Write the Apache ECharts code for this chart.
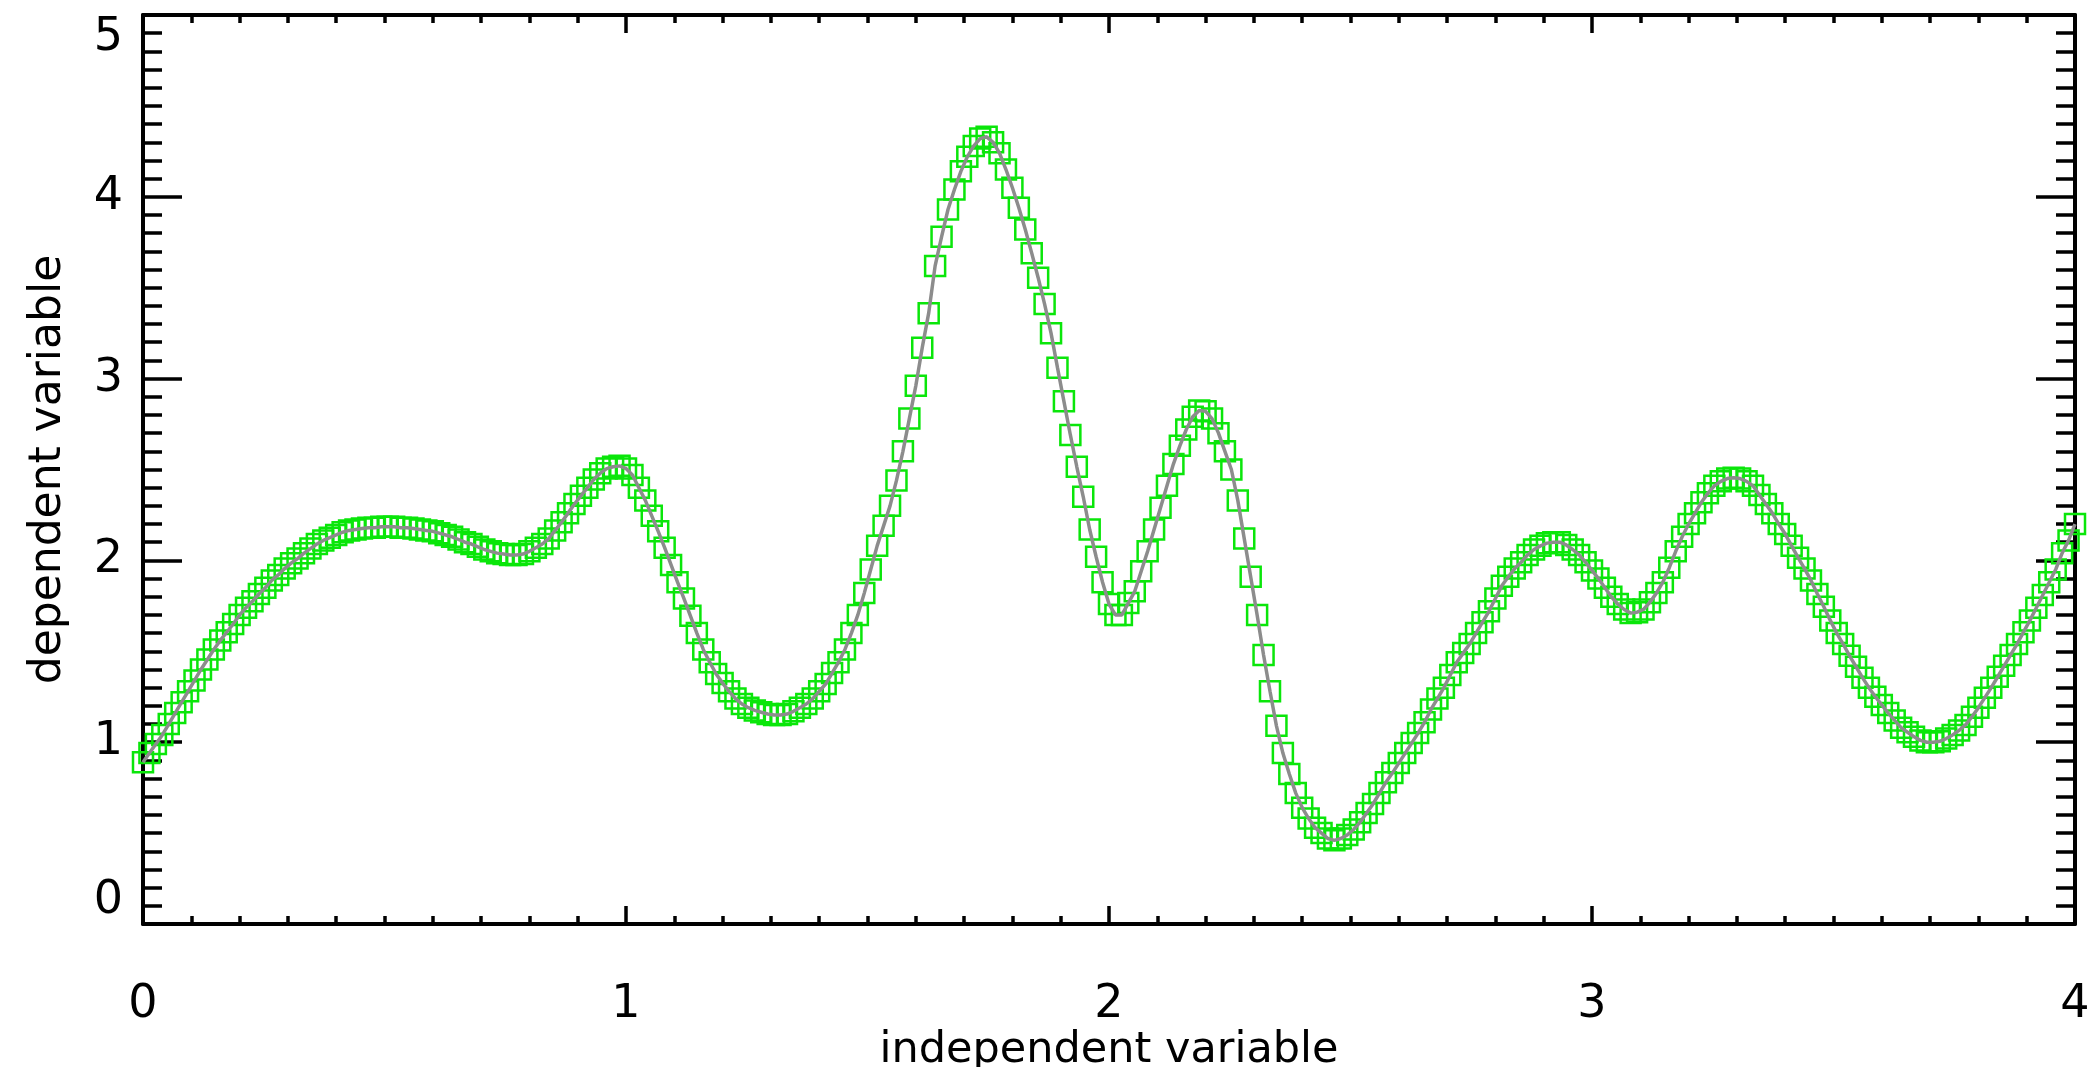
<!DOCTYPE html>
<html>
<head>
<meta charset="utf-8">
<script src="https://cdn.jsdelivr.net/npm/echarts@6/dist/echarts.min.js"></script>
<style>
  html, body { margin: 0; padding: 0; background: #fff; }
  #plot { width: 2091px; height: 1067px; }
</style>
</head>
<body>
<div id="plot"></div>
<script>
// sampled curve: x runs from 0 to 4 in 300 equal steps
var xStart = 0;
var xStep = 4 / 300;
var yValues = [
  0.89, 0.94, 0.99, 1.04, 1.10, 1.16, 1.22, 1.28, 1.34, 1.40,
  1.455, 1.51, 1.56, 1.605, 1.65, 1.70, 1.74, 1.775, 1.815, 1.85,
  1.89, 1.92, 1.955, 1.985, 2.01, 2.04, 2.065, 2.09, 2.11, 2.125,
  2.14, 2.155, 2.165, 2.17, 2.175, 2.18, 2.18, 2.185, 2.185, 2.185,
  2.18, 2.18, 2.175, 2.17, 2.165, 2.16, 2.15, 2.14, 2.13, 2.115,
  2.10, 2.09, 2.075, 2.06, 2.05, 2.04, 2.035, 2.03, 2.03, 2.035,
  2.05, 2.07, 2.09, 2.12, 2.165, 2.21, 2.26, 2.31, 2.355, 2.40,
  2.445, 2.48, 2.505, 2.515, 2.52, 2.505, 2.47, 2.40, 2.33, 2.245,
  2.16, 2.07, 1.975, 1.88, 1.79, 1.695, 1.60, 1.51, 1.44, 1.375,
  1.325, 1.28, 1.24, 1.21, 1.19, 1.175, 1.165, 1.155, 1.15, 1.15,
  1.155, 1.17, 1.19, 1.21, 1.24, 1.28, 1.32, 1.38, 1.44, 1.51,
  1.60, 1.70, 1.82, 1.95, 2.08, 2.19, 2.30, 2.44, 2.60, 2.78,
  2.96, 3.17, 3.36, 3.62, 3.78, 3.93, 4.04, 4.14, 4.22, 4.28,
  4.32, 4.33, 4.30, 4.24, 4.15, 4.05, 3.94, 3.82, 3.69, 3.555,
  3.41, 3.25, 3.06, 2.875, 2.69, 2.515, 2.35, 2.17, 2.02, 1.88,
  1.76, 1.70, 1.70, 1.765, 1.83, 1.94, 2.05, 2.17, 2.29, 2.41,
  2.53, 2.63, 2.72, 2.79, 2.825, 2.82, 2.78, 2.70, 2.60, 2.50,
  2.33, 2.12, 1.91, 1.70, 1.48, 1.28, 1.09, 0.94, 0.825, 0.72,
  0.64, 0.58, 0.53, 0.50, 0.47, 0.46, 0.47, 0.49, 0.52, 0.56,
  0.61, 0.66, 0.72, 0.78, 0.83, 0.885, 0.94, 0.995, 1.05, 1.11,
  1.18, 1.24, 1.30, 1.37, 1.44, 1.49, 1.54, 1.60, 1.66, 1.72,
  1.79, 1.86, 1.91, 1.955, 1.99, 2.03, 2.06, 2.08, 2.095, 2.10,
  2.10, 2.085, 2.06, 2.03, 1.99, 1.945, 1.90, 1.85, 1.80, 1.76,
  1.73, 1.71, 1.715, 1.73, 1.77, 1.82, 1.88, 1.96, 2.05, 2.13,
  2.20, 2.26, 2.32, 2.37, 2.41, 2.435, 2.45, 2.455, 2.45, 2.435,
  2.41, 2.36, 2.31, 2.26, 2.20, 2.145, 2.08, 2.015, 1.955, 1.89,
  1.815, 1.745, 1.67, 1.60, 1.54, 1.475, 1.415, 1.355, 1.30, 1.25,
  1.205, 1.16, 1.12, 1.08, 1.055, 1.03, 1.01, 1.00, 1.00, 1.005,
  1.02, 1.04, 1.065, 1.095, 1.14, 1.19, 1.245, 1.30, 1.36, 1.42,
  1.48, 1.54, 1.605, 1.67, 1.74, 1.81, 1.88, 1.95, 2.04, 2.11,
  2.20
];
var xTitle = 'independent variable';
var yTitle = 'dependent variable';

var points = yValues.map(function (v, i) { return [xStart + i * xStep, v]; });

var font = 'DejaVu Sans';
var frame = { show: true, onZero: false, lineStyle: { color: '#000', width: 4 } };

function xAxisOf(pos, labels) {
    return {
        type: 'value', position: pos, min: 0, max: 4, interval: 1,
        axisLine: frame,
        axisTick: { show: true, inside: true, length: 18, lineStyle: { color: '#000', width: 3.5 } },
        minorTick: { show: true, splitNumber: 10, length: 8, lineStyle: { color: '#000', width: 3.5 } },
        splitLine: { show: false },
        axisLabel: { show: labels, color: '#000', fontFamily: font, fontSize: 46, margin: 58 },
        name: labels ? xTitle : '',
        nameLocation: 'middle',
        nameGap: 105,
        nameMoveOverlap: false,
        nameTextStyle: { color: '#000', fontFamily: font, fontSize: 43 }
    };
}

function yAxisOf(pos, labels) {
    return {
        type: 'value', position: pos, min: 0, max: 5, interval: 1,
        axisLine: frame,
        axisTick: { show: true, inside: true, length: 39, lineStyle: { color: '#000', width: 3.5 } },
        minorTick: { show: true, splitNumber: 10, length: 19, lineStyle: { color: '#000', width: 3.5 } },
        splitLine: { show: false },
        axisLabel: {
            show: labels, color: '#000', fontFamily: font, fontSize: 46, margin: 20,
            verticalAlignMaxLabel: 'top', verticalAlignMinLabel: 'bottom'
        },
        name: labels ? yTitle : '',
        nameLocation: 'middle',
        nameGap: 72,
        nameMoveOverlap: false,
        nameTextStyle: { color: '#000', fontFamily: font, fontSize: 44 }
    };
}

var chart = echarts.init(document.getElementById('plot'));
chart.setOption({
    animation: false,
    backgroundColor: '#fff',
    grid: { left: 143, right: 16, top: 15, bottom: 143, containLabel: false, outerBoundsMode: 'none' },
    xAxis: [xAxisOf('bottom', true), xAxisOf('top', false)],
    yAxis: [yAxisOf('left', true), yAxisOf('right', false)],
    series: [{
        type: 'scatter',
        data: points,
        symbol: 'rect',
        symbolSize: 20,
        itemStyle: { color: 'rgba(0,0,0,0)', borderColor: 'rgb(10,230,10)', borderWidth: 2.5, opacity: 1 },
        z: 2
    }, {
        type: 'line',
        data: points,
        showSymbol: false,
        lineStyle: { color: '#8c8c8c', width: 3.5 },
        z: 3
    }]
});
</script>
</body>
</html>
